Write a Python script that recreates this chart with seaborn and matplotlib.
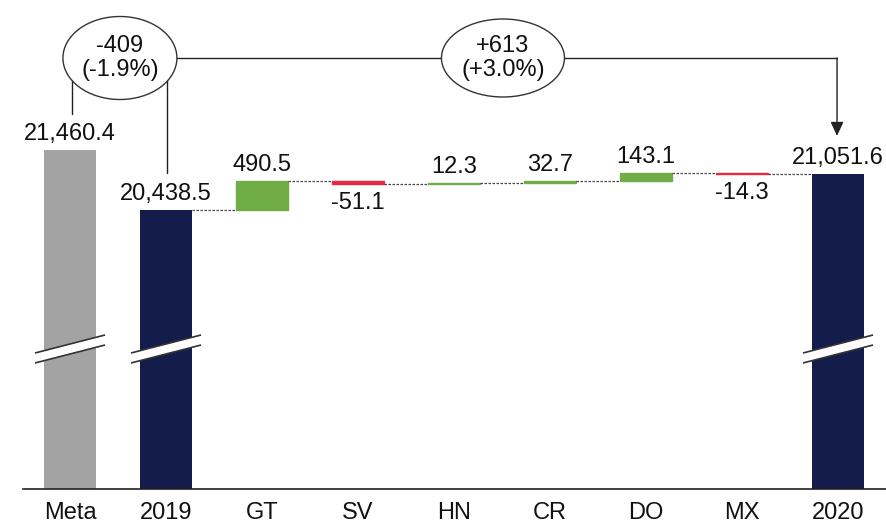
import matplotlib
matplotlib.use("Agg")
import matplotlib.pyplot as plt
from matplotlib.patches import Ellipse, Polygon
import seaborn as sns
import numpy as np
import pandas as pd

# ---------------- data ----------------
categories = ["Meta", "2019", "GT", "SV", "HN", "CR", "DO", "MX", "2020"]
total_categories = ["Meta", "2019", "2020"]
total_values = [21460.4, 20438.5, 21051.6]
delta_categories = ["GT", "SV", "HN", "CR", "DO", "MX"]
delta_values = [490.5, -51.1, 12.3, 32.7, 143.1, -14.3]
bubble_texts = ["-409\n(-1.9%)", "+613\n(+3.0%)"]

# ---------------- style ----------------
sns.set_style("white")
plt.rcParams["font.family"] = ["Liberation Sans", "DejaVu Sans"]

GRAY = "#A3A3A3"
NAVY = "#131C4B"
GREEN = "#70AD47"
RED = "#E8293F"
FS = 17
W = 0.55

FIG_W, FIG_H = 887, 523
AX_L, AX_B, AX_H = 23, 34, 489
fig = plt.figure(figsize=(FIG_W / 100, FIG_H / 100), dpi=100)
ax = fig.add_axes([AX_L / FIG_W, AX_B / FIG_H, (FIG_W - AX_L) / FIG_W, AX_H / FIG_H])

pos = {c: i for i, c in enumerate(categories)}

# totals
tot_df = pd.DataFrame({"cat": total_categories, "val": total_values})
sns.barplot(data=tot_df, x="cat", y="val", hue="cat", order=categories,
            hue_order=total_categories, palette=[GRAY, NAVY, NAVY],
            width=W, saturation=1, legend=False, linewidth=0,
            errorbar=None, ax=ax)

# deltas (floating bars)
deltas = np.array(delta_values)
start = total_values[1]
levels = start + np.cumsum(deltas)
prev = np.concatenate([[start], levels[:-1]])
bottoms = np.where(deltas > 0, prev, prev + deltas)
heights = np.abs(deltas)
d_df = pd.DataFrame({"cat": delta_categories, "height": heights,
                     "bottom": bottoms, "up": deltas > 0})
for up, col in [(True, GREEN), (False, RED)]:
    sub = d_df[d_df["up"] == up]
    sns.barplot(data=sub, x="cat", y="height", order=categories,
                bottom=sub["bottom"].to_numpy(), color=col, saturation=1,
                width=W, edgecolor=col, linewidth=1.0, errorbar=None, ax=ax)

# axes limits
ylo, yhi = 15710, 23998
ax.set_ylim(ylo, yhi)
ax.set_xlim((AX_L - 70) / 96, (FIG_W - 70) / 96)
upp = (yhi - ylo) / AX_H  # data units per pixel

# connectors
seq_levels = [start] + list(levels)
for k in range(len(seq_levels)):
    x0 = pos[categories[1 + k]] + W / 2
    x1 = pos[categories[2 + k]] - W / 2
    ax.plot([x0, x1], [seq_levels[k]] * 2, color="#444444", lw=0.9,
            ls=(0, (2, 1.2)), zorder=3)

# value labels
def label_above(x, y, txt):
    ax.annotate(txt, (x, y), xytext=(0, 7.2), textcoords="offset points",
                ha="center", va="baseline", fontsize=FS, color="#111111")

def label_below(x, y, txt):
    ax.annotate(txt, (x, y), xytext=(0, -18), textcoords="offset points",
                ha="center", va="baseline", fontsize=FS, color="#111111")

for c, v in zip(total_categories, total_values):
    label_above(pos[c], v, f"{v:,.1f}")
for c, d, b, h in zip(delta_categories, deltas, bottoms, heights):
    if d > 0:
        label_above(pos[c], b + h, f"{d:.1f}")
    else:
        label_below(pos[c], b, f"{d:.1f}")

# axis break marks
brk_c = ylo + 140 * upp
half_dx = 0.365
slope_units = 9 * upp
gap_units = 5 * upp
for c in total_categories:
    x = pos[c]
    xs = [x - half_dx, x + half_dx]
    poly = Polygon([(xs[0], brk_c - gap_units - slope_units),
                    (xs[1], brk_c - gap_units + slope_units),
                    (xs[1], brk_c + gap_units + slope_units),
                    (xs[0], brk_c + gap_units - slope_units)],
                   closed=True, facecolor="white", edgecolor="none", zorder=4)
    ax.add_patch(poly)
    for s in (-1, 1):
        ax.plot(xs, [brk_c + s * gap_units - slope_units,
                     brk_c + s * gap_units + slope_units],
                color="#333333", lw=1.2, zorder=5, solid_capstyle="butt")

# bracket with bubbles
y_top = yhi - 58 * upp
x_left = pos["Meta"] + 0.02
x_mid = pos["2019"] + 0.01
x_right = pos["2020"] - 0.01
lc = "#222222"
ax.plot([x_left, x_right], [y_top, y_top], color=lc, lw=1.0, zorder=6)
ax.plot([x_left, x_left], [y_top, total_values[0] + 36 * upp], color=lc, lw=1.0, zorder=6)
ax.plot([x_mid, x_mid], [y_top, total_values[1] + 37 * upp], color=lc, lw=1.0, zorder=6)
ax.annotate("", xy=(x_right, total_values[2] + 38 * upp), xytext=(x_right, y_top),
            arrowprops=dict(arrowstyle="-|>,head_length=0.6,head_width=0.28",
                            mutation_scale=14, color=lc, lw=1.0,
                            shrinkA=0, shrinkB=0), zorder=6)

bubbles = [(0.52, 114, 83, bubble_texts[0]), (4.51, 123, 78, bubble_texts[1])]
for cx, wpx, hpx, txt in bubbles:
    e = Ellipse((cx, y_top), wpx / 96, hpx * upp, facecolor="white",
                edgecolor="#333333", lw=1.0, zorder=7)
    ax.add_patch(e)
    ax.text(cx, y_top, txt, ha="center", va="center", multialignment="center",
            fontsize=FS, linespacing=1.15, color="#111111", zorder=8)

# axis cosmetics
for s in ["left", "top", "right"]:
    ax.spines[s].set_visible(False)
ax.spines["bottom"].set_color("#222222")
ax.spines["bottom"].set_linewidth(1.2)
ax.set_yticks([])
ax.tick_params(axis="x", length=0, pad=9.5, labelsize=FS, labelcolor="#111111")
ax.set_xlabel("")
ax.set_ylabel("")

fig.savefig("out.png", dpi=100)
